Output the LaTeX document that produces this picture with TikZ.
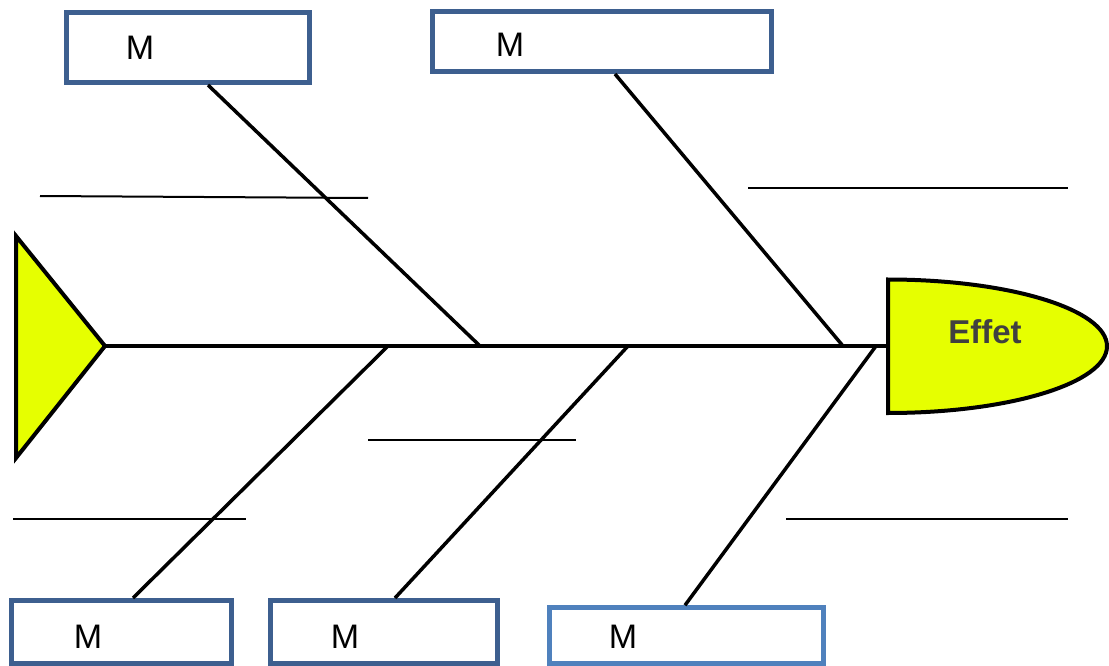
\documentclass[tikz,border=0pt]{standalone}
\usepackage{fontspec}
\setmainfont{Liberation Sans}
\definecolor{fishyellow}{RGB}{230,255,0}
\definecolor{boxblue}{RGB}{61,95,143}
\definecolor{boxblueC}{RGB}{79,129,189}
\definecolor{effetgray}{RGB}{64,64,64}
\begin{document}
\begin{tikzpicture}[x=1pt,y=-1pt,
  mbox/.style={draw=boxblue,line width=5pt,fill=white,rectangle,inner sep=0pt},
  mlabel/.style={font=\fontsize{34}{34}\selectfont,text=black,inner sep=0pt},
  bone/.style={draw=black,line width=3.5pt},
  blank/.style={draw=black,line width=2pt}]
\useasboundingbox (0,0) rectangle (1109,666);
% tail
\draw[fill=fishyellow,line width=4pt,line join=miter] (16,236) -- (105,346) -- (16,458) -- cycle;
\coordinate (tail) at (105,346);
% head
\draw[fill=fishyellow,line width=4pt] (888,413) -- (888,279.5) arc[start angle=-90,end angle=90,x radius=219,y radius=66.75] -- cycle;
\node[font=\bfseries\fontsize{33}{33}\selectfont,text=effetgray] (effet) at (985,332) {Effet};
\coordinate (head) at (888,346);
% spine
\draw[bone] (tail) -- (head);
% junctions on spine
\coordinate (j1) at (480,346);
\coordinate (j2) at (843,346);
\coordinate (j3) at (388,346);
\coordinate (j4) at (628,346);
\coordinate (j5) at (876,346);
% top boxes
\node[mbox,minimum width=243pt,minimum height=70pt] (b1) at (188,47.5) {};
\node[mlabel] (m1) at (140,48) {M};
\node[mbox,minimum width=339pt,minimum height=60pt] (b2) at (602,41.5) {};
\node[mlabel] (m2) at (510,45) {M};
% bottom boxes
\node[mbox,minimum width=220pt,minimum height=63pt] (b3) at (121.5,632) {};
\node[mlabel] (m3) at (88,637) {M};
\node[mbox,minimum width=227pt,minimum height=63pt] (b4) at (384,632) {};
\node[mlabel] (m4) at (345,637) {M};
\node[mbox,draw=boxblueC,line width=4.5pt,minimum width=274pt,minimum height=56pt] (b5) at (686.5,635.5) {};
\node[mlabel] (m5) at (623,637) {M};
% bones
\draw[bone] (b1.south -| 208,0) -- (j1);
\draw[bone] (b2.south -| 615,0) -- (j2);
\draw[bone] (b3.north -| 133,0) -- (j3);
\draw[bone] (b4.north -| 395,0) -- (j4);
\draw[bone] (b5.north -| 685,0) -- (j5);
% blank lines
\draw[blank] (40,196) -- (368,198);
\draw[blank] (748,188) -- (1068,188);
\draw[blank] (368,440) -- (576,440);
\draw[blank] (13,519) -- (246,519);
\draw[blank] (786,519) -- (1068,519);
\end{tikzpicture}
\end{document}
